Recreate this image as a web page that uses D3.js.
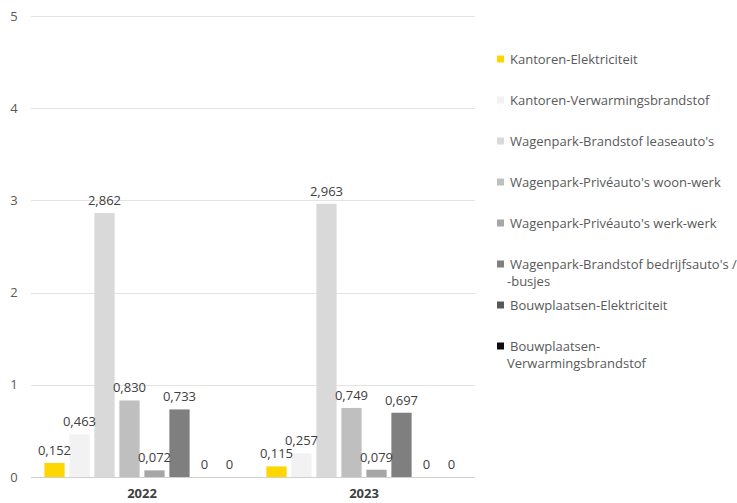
<!DOCTYPE html>
<html>
<head>
<meta charset="utf-8">
<script src="https://cdn.jsdelivr.net/npm/d3@7"></script>
<style>
  html, body { margin: 0; padding: 0; background: #fff; }
  svg { display: block; font-family: "Open Sans", "Noto Sans", sans-serif; }
</style>
</head>
<body>
<svg id="chart" width="737" height="503"></svg>
<script>
const categories = ["2022", "2023"];
const seriesNames = [
  "Kantoren-Elektriciteit",
  "Kantoren-Verwarmingsbrandstof",
  "Wagenpark-Brandstof leaseauto's",
  "Wagenpark-Privéauto's woon-werk",
  "Wagenpark-Privéauto's werk-werk",
  "Wagenpark-Brandstof bedrijfsauto's / -busjes",
  "Bouwplaatsen-Elektriciteit",
  "Bouwplaatsen-Verwarmingsbrandstof"
];
const legendLines = [
  ["Kantoren-Elektriciteit"],
  ["Kantoren-Verwarmingsbrandstof"],
  ["Wagenpark-Brandstof leaseauto's"],
  ["Wagenpark-Privéauto's woon-werk"],
  ["Wagenpark-Privéauto's werk-werk"],
  ["Wagenpark-Brandstof bedrijfsauto's /", "-busjes"],
  ["Bouwplaatsen-Elektriciteit"],
  ["Bouwplaatsen-", "Verwarmingsbrandstof"]
];
const values2022 = [0.152, 0.463, 2.862, 0.830, 0.072, 0.733, 0, 0];
const values2023 = [0.115, 0.257, 2.963, 0.749, 0.079, 0.697, 0, 0];
const yTicks = [0, 1, 2, 3, 4, 5];
const colors = ["#FFD700", "#F2F2F2", "#D9D9D9", "#BFBFBF", "#A6A6A6", "#7F7F7F", "#595959", "#0D0D0D"];

const valuesByCat = [values2022, values2023];
const svg = d3.select("#chart");
const plot = { left: 31, right: 475, top: 16, bottom: 477 };

const x0 = d3.scaleBand().domain(categories).range([plot.left, plot.right]).paddingInner(0).paddingOuter(0);
const x1 = d3.scaleBand().domain(d3.range(seriesNames.length))
  .range([11, x0.bandwidth() - 11]).paddingInner(0.19).paddingOuter(0.095);
const y = d3.scaleLinear().domain([0, 5]).range([plot.bottom, plot.top]);
const color = d3.scaleOrdinal().domain(d3.range(seriesNames.length)).range(colors);

// gridlines
svg.append("g").selectAll("line").data(yTicks).join("line")
  .attr("x1", plot.left).attr("x2", plot.right)
  .attr("y1", d => Math.round(y(d)) + 0.5).attr("y2", d => Math.round(y(d)) + 0.5)
  .attr("stroke", d => d === 0 ? "#D0D0D0" : "#E3E3E3").attr("stroke-width", 1);

// y tick labels
svg.append("g").selectAll("text").data(yTicks).join("text")
  .attr("x", 14).attr("y", d => y(d)).attr("dy", "0.35em")
  .attr("text-anchor", "middle").attr("fill", "#595959").attr("font-size", 13)
  .text(d => d);

// bars
const groups = svg.append("g").selectAll("g").data(categories).join("g")
  .attr("transform", d => `translate(${x0(d)},0)`);

groups.selectAll("rect").data((c, ci) => valuesByCat[ci].map((v, i) => ({ v, i })))
  .join("rect")
  .attr("x", d => x1(d.i)).attr("width", x1.bandwidth())
  .attr("y", d => y(d.v)).attr("height", d => y(0) - y(d.v))
  .attr("fill", d => color(d.i));

groups.selectAll("text").data((c, ci) => valuesByCat[ci].map((v, i) => ({ v, i })))
  .join("text")
  .attr("x", d => x1(d.i) + x1.bandwidth() / 2)
  .attr("y", d => y(d.v) - 8)
  .attr("text-anchor", "middle").attr("fill", "#404040").attr("font-size", 13)
  .text(d => d.v === 0 ? "0" : d3.format(".3f")(d.v).replace(".", ","));

// category labels
svg.append("g").selectAll("text").data(categories).join("text")
  .attr("x", d => x0(d) + x0.bandwidth() / 2).attr("y", 498)
  .attr("text-anchor", "middle").attr("fill", "#404040")
  .attr("font-size", 13).attr("font-weight", "bold")
  .text(d => d);

// legend
const legendY = d3.scaleLinear().domain([0, 7]).range([59, 346]);
const leg = svg.append("g").selectAll("g").data(seriesNames).join("g")
  .attr("transform", (d, i) => `translate(0,${legendY(i)})`);
leg.append("rect").attr("x", 497).attr("y", -3.5).attr("width", 7).attr("height", 7)
  .attr("fill", (d, i) => color(i));
leg.each(function(d, i) {
  const g = d3.select(this);
  legendLines[i].forEach((line, li) => {
    g.append("text")
      .attr("x", li === 0 ? 510 : 507).attr("y", li * 17).attr("dy", "0.35em")
      .attr("fill", "#595959").attr("font-size", 13)
      .text(line);
  });
});
</script>
</body>
</html>
